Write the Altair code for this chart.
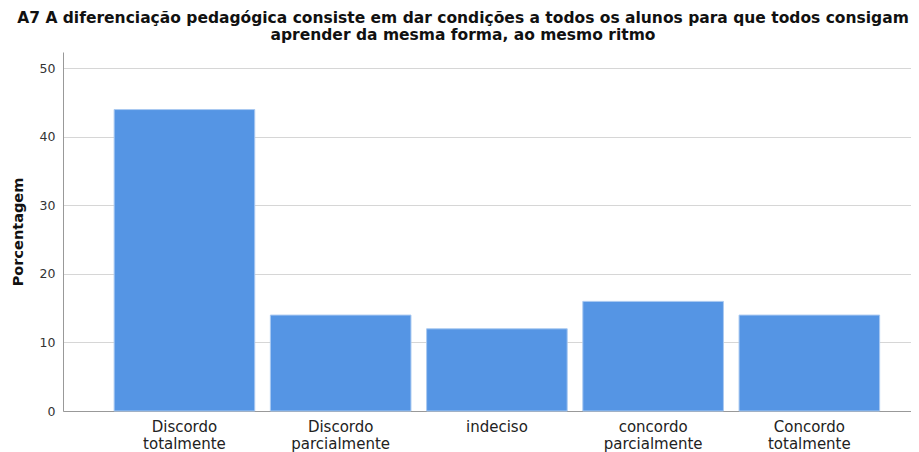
import altair as alt
import pandas as pd

categories = ["Discordo totalmente", "Discordo parcialmente", "indeciso",
              "concordo parcialmente", "Concordo totalmente"]
values = [44, 14, 12, 16, 14]
y_ticks = [0, 10, 20, 30, 40, 50]

df = pd.DataFrame({"cat": categories, "pct": values})

title_lines = ["A7 A diferenciação pedagógica consiste em dar condições a todos os alunos para que todos consigam",
               "aprender da mesma forma, ao mesmo ritmo"]

chart = alt.Chart(df).mark_bar(color="#5595E4", stroke="#A9C9F1", strokeWidth=1).encode(
    x=alt.X("cat:N", sort=categories, title=None,
            scale=alt.Scale(paddingInner=0.1, paddingOuter=0.264, align=0.62),
            axis=alt.Axis(labelAngle=0, labelExpr="split(datum.label, ' ')",
                          labelFontSize=15, labelColor="#222", labelFont="DejaVu Sans",
                          ticks=False, labelPadding=8, domainColor="#999", labelLineHeight=17.5)),
    y=alt.Y("pct:Q", title="Porcentagem",
            scale=alt.Scale(domain=[0, 52.4], nice=False),
            axis=alt.Axis(values=y_ticks, ticks=False, labelPadding=8, labelFontSize=12.5,
                          labelColor="#333", labelFont="DejaVu Sans",
                          titleFontSize=14.5, titleFont="DejaVu Sans", titleFontWeight="bold",
                          titleColor="#111", titlePadding=14,
                          gridColor="#d6d6d6", domainColor="#999")),
).properties(
    width=848, height=359,
    title=alt.TitleParams(title_lines, fontSize=15.5, font="DejaVu Sans", fontWeight="bold",
                          color="#111", anchor="middle", dx=-24, offset=9, lineHeight=17),
    padding={"left": 55, "top": 44, "right": 0, "bottom": 44},
    autosize=alt.AutoSizeParams(type="none"),
).configure_view(stroke=None)

chart.save("out.html", embed_options={"renderer": "svg", "actions": False})
